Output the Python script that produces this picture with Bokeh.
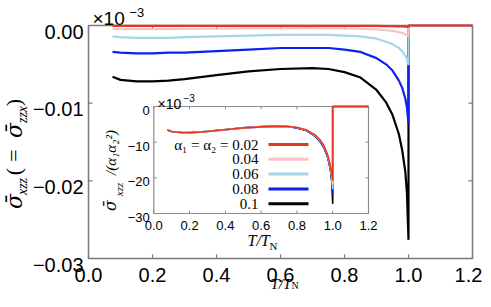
import math
from bokeh.plotting import figure
from bokeh.models import Label, Range1d
from bokeh.embed import file_html
from bokeh.resources import INLINE

# ---------------- data ----------------
T = [0.075, 0.1, 0.15, 0.2, 0.25, 0.3, 0.4, 0.5, 0.6, 0.7, 0.75, 0.8, 0.85,
     0.9, 0.93, 0.95, 0.97, 0.98, 0.99, 0.995, 1.0, 1.0, 1.2]

alpha_labels = ["0.02", "0.04", "0.06", "0.08", "0.1"]
colors = ["#e8351f", "#f8c3c3", "#a7d6ea", "#0b22f2", "#000000"]

# main panel: sigma_xzz
main_002 = [-0.00005, -0.00006, -0.00006, -0.00006, -0.00006, -0.00006, -0.00005, -0.00005,
            -0.00005, -0.00004, -0.00004, -0.00005, -0.00005, -0.00006, -0.00008, -0.00009,
            -0.00011, -0.00012, -0.00014, -0.00015, -0.00017, 0.0, 0.0]
main_004 = [-0.00042, -0.00045, -0.00047, -0.00047, -0.00046, -0.00045, -0.00042, -0.00038,
            -0.00036, -0.00035, -0.00036, -0.00038, -0.00042, -0.00051, -0.00061, -0.0007,
            -0.00086, -0.00097, -0.00113, -0.00124, -0.0014, 0.0, 0.0]
main_006 = [-0.0014, -0.0015, -0.0016, -0.0016, -0.0016, -0.0015, -0.0014, -0.0013,
            -0.0012, -0.0012, -0.0012, -0.0013, -0.0014, -0.0017, -0.0021, -0.0024,
            -0.0029, -0.0033, -0.0039, -0.0043, -0.0051, 0.0, 0.0]
main_008 = [-0.0034, -0.0035, -0.0036, -0.0036, -0.0035, -0.0035, -0.0033, -0.0031,
            -0.0029, -0.0029, -0.0029, -0.0031, -0.0034, -0.0042, -0.0050, -0.0058,
            -0.0071, -0.0080, -0.0094, -0.0105, -0.0126, 0.0, 0.0]
main_010 = [-0.0066, -0.0070, -0.0072, -0.0072, -0.0071, -0.0069, -0.0064, -0.0059,
            -0.0056, -0.0055, -0.0056, -0.0060, -0.0067, -0.0083, -0.0099, -0.0115,
            -0.0140, -0.0160, -0.0188, -0.0215, -0.0276, 0.0, 0.0]

# inset: sigma_xzz / (alpha1 alpha2^2), units of 1e-3
ins_002 = [-6.6, -7.0, -7.3, -7.35, -7.2, -7.0, -6.5, -6.0, -5.7, -5.5, -5.6, -5.9, -6.5,
           -7.9, -9.4, -10.9, -13.3, -15.1, -17.5, -19.0, -20.8, 0.0, 0.0]
ins_004 = [-6.6, -7.0, -7.3, -7.35, -7.2, -7.0, -6.5, -6.0, -5.7, -5.5, -5.6, -5.9, -6.5,
           -8.0, -9.5, -11.0, -13.4, -15.2, -17.7, -19.4, -21.8, 0.0, 0.0]
ins_006 = [-6.6, -7.0, -7.3, -7.35, -7.2, -7.0, -6.5, -6.0, -5.7, -5.5, -5.6, -5.9, -6.6,
           -8.1, -9.6, -11.1, -13.6, -15.4, -18.0, -20.0, -23.2, 0.0, 0.0]
ins_008 = [-6.6, -7.0, -7.3, -7.35, -7.2, -7.0, -6.5, -6.0, -5.7, -5.5, -5.6, -6.0, -6.6,
           -8.2, -9.7, -11.3, -13.8, -15.7, -18.3, -20.6, -24.5, 0.0, 0.0]
ins_010 = [-6.6, -7.0, -7.25, -7.3, -7.15, -6.95, -6.45, -5.95, -5.65, -5.5, -5.6, -6.0, -6.7,
           -8.3, -9.9, -11.5, -14.0, -16.0, -18.8, -21.5, -27.3, 0.0, 0.0]

x_ticks = [0.0, 0.2, 0.4, 0.6, 0.8, 1.0, 1.2]
main_y_ticks = [-0.03, -0.02, -0.01, 0.0]
inset_y_ticks = [-30, -20, -10, 0]

main_series = [main_002, main_004, main_006, main_008, main_010]
inset_series = [ins_002, ins_004, ins_006, ins_008, ins_010]

SANS = "Liberation Sans"
SERIF = "Liberation Serif"
DSERIF = "DejaVu Serif"
AX = "#7a7a7a"
AXI = "#8c8c8c"

# ---------------- layout (picture pixels) ----------------
W, H = 483, 291
OX, OY = 0, 0
M_L, M_R, M_T, M_B = 88, 472, 25, 258            # main box
I_L, I_R, I_T, I_B = 153.3, 368.0, 106.0, 213.0  # inset box

XMAX = x_ticks[-1]
YMIN_M = main_y_ticks[0]
YMIN_I = inset_y_ticks[0]

def mx(X): return (X - M_L) / (M_R - M_L) * XMAX
def my(Y): return (Y - M_T) / (M_B - M_T) * YMIN_M
def ix(X): return (X - I_L) / (I_R - I_L) * XMAX
def iy(Y): return (Y - I_T) / (I_B - I_T) * YMIN_I

p = figure(width=W, height=H, output_backend="svg", toolbar_location=None,
           x_axis_type=None, y_axis_type=None,
           x_range=Range1d(mx(OX), mx(OX + W)), y_range=Range1d(my(OY + H), my(OY)),
           min_border=0, min_border_left=0, min_border_right=0,
           min_border_top=0, min_border_bottom=0)
p.outline_line_color = None
p.grid.visible = False
p.extra_x_ranges = {"ix": Range1d(ix(OX), ix(OX + W))}
p.extra_y_ranges = {"iy": Range1d(iy(OY + H), iy(OY))}
IR = dict(x_range_name="ix", y_range_name="iy")

def lab(X, Y, text, size, style="normal", font=SERIF, align="left",
        baseline="alphabetic", angle=0.0):
    p.add_layout(Label(x=X - OX, y=OY + H - Y, x_units="screen", y_units="screen",
                       text=text, text_font=font, text_font_size=f"{size}px",
                       text_font_style=style, text_align=align,
                       text_baseline=baseline, angle=angle, text_color="black"))

# ---------------- main panel ----------------
p.quad(left=[0], right=[XMAX], bottom=[YMIN_M], top=[0], fill_color="white",
       line_color=AX, line_width=1.5)
tx = 4 / (M_R - M_L) * XMAX          # 4px inward ticks
ty = 4 / (M_B - M_T) * (-YMIN_M)
nx, ny = len(x_ticks), len(main_y_ticks)
p.segment(x0=x_ticks, x1=x_ticks, y0=[YMIN_M] * nx, y1=[YMIN_M + ty] * nx, line_color=AX, line_width=1.2)
p.segment(x0=x_ticks, x1=x_ticks, y0=[0] * nx, y1=[-ty] * nx, line_color=AX, line_width=1.2)
p.segment(x0=[0] * ny, x1=[tx] * ny, y0=main_y_ticks, y1=main_y_ticks, line_color=AX, line_width=1.2)
p.segment(x0=[XMAX] * ny, x1=[XMAX - tx] * ny, y0=main_y_ticks, y1=main_y_ticks, line_color=AX, line_width=1.2)

# last x label nudged left so it stays inside the picture
x_lab_shift = [0, 0, 0, 0, 0, 0, -4]
p.text(x=x_ticks, y=[YMIN_M] * nx, text=[f"{t:.1f}" for t in x_ticks],
       text_font={"value": SANS}, text_font_size="20px", text_align="center",
       text_baseline="alphabetic", x_offset=x_lab_shift, y_offset=16, text_color="black")
p.text(x=[0] * ny, y=main_y_ticks,
       text=[f"{t:.2f}".replace("-", "\u2212") for t in main_y_ticks],
       text_font={"value": SANS}, text_font_size="20px", text_align="right",
       text_baseline="alphabetic", x_offset=-5, y_offset=6, text_color="black")

for ys, c in zip(main_series[::-1], colors[::-1]):
    p.line(T, ys, line_color=c, line_width=2.2)

# titles of main panel
lab(270, 283, "T/T", 15, "italic")
lab(291, 285, "N", 10)
lab(92, 18, "\u00d710", 19, font=SANS)
lab(129, 12, "\u22123", 13, font=SANS)
R = math.pi / 2
lab(14, 201, "\u03c3\u0304", 22, "italic", font=DSERIF, align="center", baseline="middle", angle=R)
lab(22, 186, "xzz", 14, "italic", align="center", baseline="middle", angle=R)
lab(13, 171, "(", 22, align="center", baseline="middle", angle=R)
lab(13, 155, "=", 22, align="center", baseline="middle", angle=R)
lab(14, 130, "\u03c3\u0304", 22, "italic", font=DSERIF, align="center", baseline="middle", angle=R)
lab(22, 114, "zzx", 14, "italic", align="center", baseline="middle", angle=R)
lab(13, 102, ")", 22, align="center", baseline="middle", angle=R)

# ---------------- inset ----------------
p.quad(left=[0], right=[XMAX], bottom=[YMIN_I], top=[0], fill_color="white",
       line_color=AXI, line_width=1.2, **IR)
itx = 3 / (I_R - I_L) * XMAX
ity = 3 / (I_B - I_T) * (-YMIN_I)
niy = len(inset_y_ticks)
p.segment(x0=x_ticks, x1=x_ticks, y0=[YMIN_I] * nx, y1=[YMIN_I + ity] * nx, line_color=AXI, **IR)
p.segment(x0=x_ticks, x1=x_ticks, y0=[0] * nx, y1=[-ity] * nx, line_color=AXI, **IR)
p.segment(x0=[0] * niy, x1=[itx] * niy, y0=inset_y_ticks, y1=inset_y_ticks, line_color=AXI, **IR)
p.segment(x0=[XMAX] * niy, x1=[XMAX - itx] * niy, y0=inset_y_ticks, y1=inset_y_ticks, line_color=AXI, **IR)

p.text(x=x_ticks, y=[YMIN_I] * nx, text=[f"{t:.1f}" for t in x_ticks],
       text_font={"value": SANS}, text_font_size="13px", text_align="center",
       text_baseline="alphabetic", y_offset=12, text_color="black", **IR)
p.text(x=[0] * niy, y=inset_y_ticks,
       text=[f"{t:d}".replace("-", "\u2212") for t in inset_y_ticks],
       text_font={"value": SANS}, text_font_size="13px", text_align="right",
       text_baseline="alphabetic", x_offset=-4, y_offset=4, text_color="black", **IR)

for ys, c in zip(inset_series[::-1], colors[::-1]):
    p.line(T, ys, line_color=c, line_width=1.6, **IR)

# legend (text on the left, line key on the right)
row_y = [144, 158.8, 173.6, 188.4, 203.2]
key_x0, key_x1 = 268, 308
p.segment(x0=[ix(key_x0)] * 5, x1=[ix(key_x1)] * 5, y0=[iy(v) for v in row_y],
          y1=[iy(v) for v in row_y], line_color=colors, line_width=3, **IR)
leg_texts = ["\u03b1\u2081 = \u03b1\u2082 = " + alpha_labels[0]] + alpha_labels[1:]
for t, yy in zip(leg_texts, row_y):
    lab(258, yy, t, 15, align="right", baseline="middle")

# inset titles
lab(157, 103, "\u00d710", 14, font=SANS)
lab(183, 97, "\u22123", 10, font=SANS)
lab(247, 240, "T/T", 16, "italic")
lab(269, 245, "N", 11)
lab(110, 205, "\u03c3\u0304", 16, "italic", font=DSERIF, align="center", baseline="middle", angle=R)
lab(118, 189, "xzz", 11, "italic", align="center", baseline="middle", angle=R)
lab(110, 152, "/(\u03b1\u2081\u03b1\u2082\u00b2)", 15, "italic", align="center", baseline="middle", angle=R)

open("out.html", "w").write(file_html(p, INLINE))
